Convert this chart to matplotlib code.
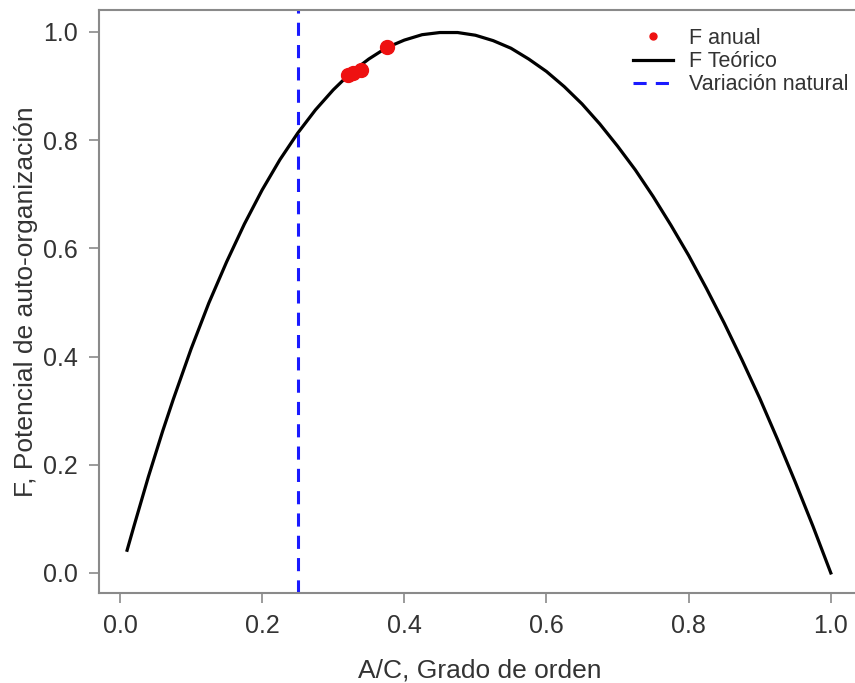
import matplotlib
matplotlib.use("Agg")
import matplotlib.pyplot as plt

# F teorico
x_teo = [0.01, 0.02, 0.03, 0.04, 0.05, 0.06, 0.075, 0.10, 0.125, 0.15, 0.175, 0.20,
         0.225, 0.25, 0.275, 0.30, 0.325, 0.35, 0.375, 0.40, 0.425, 0.45, 0.475, 0.50,
         0.525, 0.55, 0.575, 0.60, 0.625, 0.65, 0.675, 0.70, 0.725, 0.75, 0.775, 0.80,
         0.825, 0.85, 0.875, 0.90, 0.925, 0.95, 0.975, 1.00]
f_teo = [0.042, 0.088, 0.133, 0.178, 0.220, 0.262, 0.321, 0.414, 0.499, 0.575, 0.645, 0.708,
         0.764, 0.813, 0.856, 0.893, 0.925, 0.950, 0.971, 0.985, 0.995, 0.999, 0.999, 0.994,
         0.984, 0.970, 0.950, 0.927, 0.899, 0.867, 0.830, 0.789, 0.745, 0.696, 0.643, 0.587,
         0.526, 0.462, 0.394, 0.323, 0.247, 0.168, 0.086, 0.0]

# F anual points
x_anual = [0.321, 0.328, 0.339, 0.375]
f_anual = [0.920, 0.924, 0.930, 0.972]

var_natural = 0.25

x_ticks = [0.0, 0.2, 0.4, 0.6, 0.8, 1.0]
y_ticks = [0.0, 0.2, 0.4, 0.6, 0.8, 1.0]

plt.rcParams['font.family'] = ['Liberation Sans', 'DejaVu Sans']
grey = '#8a8a8a'
txt = '#333333'

fig = plt.figure(figsize=(8.55, 6.83), dpi=100)
ax = fig.add_axes([0.1158, 0.1318, 0.89, 0.8536])

ax.plot(x_teo, f_teo, color='black', lw=2.3, label='F Teórico', zorder=2,
        solid_joinstyle='round')
ax.axvline(var_natural, color='#1a1aff', lw=2.2, ls=(0, (4.3, 3)), label='Variación natural', zorder=1)
ax.plot(x_anual, f_anual, 'o', color='#ee1111', ms=10, ls='none', zorder=3)
# small marker for the legend only
ax.plot([], [], 'o', color='#ee1111', ms=5, ls='none', label='F anual')

ax.set_xlim(-0.0295, 1.041)
ax.set_ylim(-0.037, 1.0407)
ax.set_xticks(x_ticks)
ax.set_yticks(y_ticks)
ax.set_xticklabels([f'{v:.1f}' for v in x_ticks])
ax.set_yticklabels([f'{v:.1f}' for v in y_ticks])
ax.tick_params(direction='out', length=7, width=1.2, color=grey, labelsize=18, labelcolor=txt, pad=8)
for s in ax.spines.values():
    s.set_color(grey)
    s.set_linewidth(1.5)

ax.set_xlabel('A/C, Grado de orden', fontsize=19, color=txt, labelpad=15)
ax.set_ylabel('F, Potencial de auto-organización', fontsize=19, color=txt, labelpad=4)

h, l = ax.get_legend_handles_labels()
order = [2, 0, 1]
ax.legend([h[i] for i in order], [l[i] for i in order], loc='upper left',
          bbox_to_anchor=(0.69, 0.984), frameon=False, fontsize=15.5, labelcolor=txt,
          handlelength=1.85, handletextpad=0.75, labelspacing=0.1, borderaxespad=0.0)

fig.savefig('out.png', dpi=100)
